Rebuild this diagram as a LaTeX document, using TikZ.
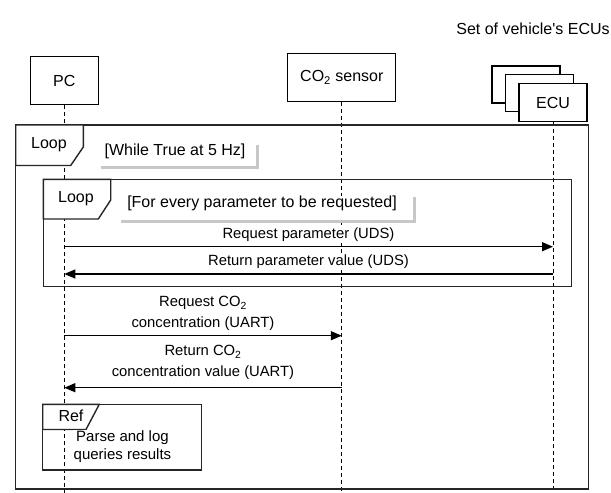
\documentclass[tikz,border=0pt]{standalone}
\usepackage{fontspec}
\setmainfont{Liberation Sans}
\newfontfamily\plainsans{Liberation Sans}[Ligatures=TeXOff]
\usetikzlibrary{arrows.meta}
\tikzset{
  actorbox/.style={draw=black, line width=1.2pt, fill=white, minimum height=38pt, inner sep=0pt, font=\fontsize{16}{19}\selectfont},
  stackbox/.style={draw=black, line width=1.2pt, fill=white, minimum width=68pt, minimum height=37pt, inner sep=0pt},
  lifeline/.style={draw=black, line width=1pt, dash pattern=on 4pt off 3pt},
  framebox/.style={draw=black!85, line width=1.4pt},
  tagfill/.style={draw=black!85, line width=1.4pt, fill=white},
  tagtext/.style={font=\fontsize{16}{19}\selectfont, inner sep=0pt},
  noteshadow/.style={draw=black!22, line width=3pt},
  msgtext/.style={fill=white, inner sep=1pt, align=center, font=\fontsize{14.8}{20.6}\selectfont},
  msg/.style={draw=black, line width=1.2pt, -{Triangle[length=11pt,width=9pt]}},
  reftext/.style={fill=white, inner sep=1pt, align=center, font=\fontsize{15}{18}\selectfont},
}
\begin{document}
\begin{tikzpicture}[x=1pt, y=-1pt]
\useasboundingbox (0,0) rectangle (611,493);

% participants
\node[actorbox, minimum width=68pt, minimum height=48pt] (pc) at (64.3,80.5) {PC};
\node[actorbox, minimum width=108pt, minimum height=47.5pt] (co2) at (341.8,77.5) {CO\textsubscript{2} sensor};
\node[stackbox] (ecuA) at (526,84.5) {};
\node[stackbox] (ecuB) at (539.5,93) {};
\node[actorbox, minimum width=68pt, minimum height=38pt] (ecu) at (553,102.5) {ECU};
\node[font=\plainsans\fontsize{16}{19}\selectfont, inner sep=0pt] (ecuset) at (533,28.5) {Set of vehicle's ECUs};

% lifelines
\coordinate (pcEnd) at (64.3,493);
\coordinate (co2End) at (341.8,493);
\coordinate (ecuEnd) at (553,493);
\draw[lifeline] (pc.south) -- (pcEnd);
\draw[lifeline] (co2.south) -- (co2End);
\draw[lifeline] (ecu.south) -- (ecuEnd);

% outer loop frame
\draw[framebox] (15.7,125) rectangle (588.7,489);
\draw[tagfill] (15.7,125) -- (83.3,125) -- (83.3,147) -- (70.7,165.5) -- (15.7,165.5) -- cycle;
\node[tagtext] (loopA) at (49,144.5) {Loop};
\draw[noteshadow] (101,167.7) -| (257.8,145);
\node[fill=white, minimum width=155pt, minimum height=23pt, inner sep=0pt] (guardAbox) at (177.5,154.5) {};
\node[tagtext] (guardA) at (175,151) {[While True at 5 Hz]};

% inner loop frame
\draw[framebox] (43.3,179.3) rectangle (571.7,286.7);
\draw[tagfill] (43.3,179.3) -- (110.7,179.3) -- (110.7,200) -- (98.3,219) -- (43.3,219) -- cycle;
\node[tagtext] (loopB) at (76,199) {Loop};
\draw[noteshadow] (121,221.2) -| (414.3,196.7);
\node[fill=white, minimum width=292pt, minimum height=24pt, inner sep=0pt] (guardBbox) at (266,207.5) {};
\node[tagtext] (guardB) at (262,203.3) {[For every parameter to be requested]};

% UDS exchange with the ECUs
\coordinate (m1s) at (64.3,246.7);
\coordinate (m1e) at (553,246.7);
\draw[msg] (m1s) -- (m1e);
\node[msgtext] (m1t) at (308.5,235) {Request parameter (UDS)};
\coordinate (m2s) at (553,274);
\coordinate (m2e) at (64.3,274);
\draw[msg] (m2s) -- (m2e);
\node[msgtext] (m2t) at (308.5,261.5) {Return parameter value (UDS)};

% UART exchange with the CO2 sensor
\coordinate (m3s) at (64.3,335.7);
\coordinate (m3e) at (341.8,335.7);
\draw[msg] (m3s) -- (m3e);
\node[msgtext] (m3t) at (203,313.5) {Request CO\textsubscript{2}\\concentration (UART)};
\coordinate (m4s) at (341.8,387.7);
\coordinate (m4e) at (64.3,387.7);
\draw[msg] (m4s) -- (m4e);
\node[msgtext] (m4t) at (203,362.5) {Return CO\textsubscript{2}\\concentration value (UART)};

% reference fragment
\draw[framebox] (42.7,404.3) rectangle (201.7,470);
\draw[tagfill] (42.7,404.3) -- (99.3,404.3) -- (86,429.5) -- (42.7,429.5) -- cycle;
\node[tagtext] (reftag) at (71,416) {Ref};
\node[reftext] (refbody) at (122.5,447) {Parse and log\\queries results};
\end{tikzpicture}
\end{document}
